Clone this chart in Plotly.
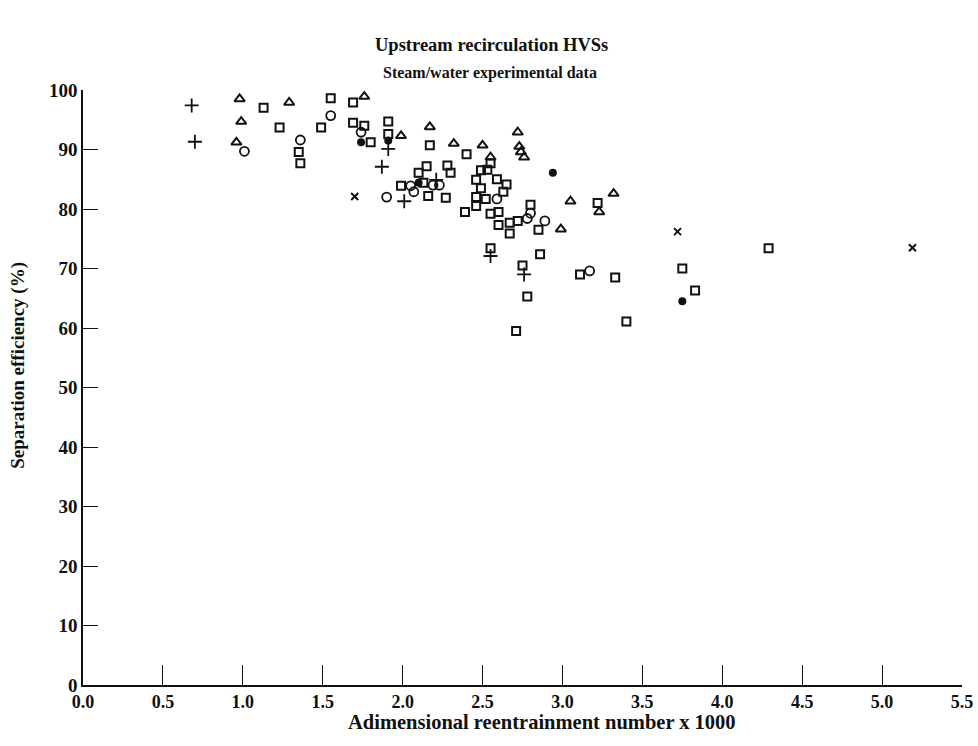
import plotly.graph_objects as go

# --- data (x = reentrainment number x 1000, y = separation efficiency %) ---
plus_x = [0.68, 0.70, 1.91, 1.87, 2.01, 2.21, 2.55, 2.76]
plus_y = [97.4, 91.3, 90.1, 87.1, 81.3, 84.9, 72.1, 69.0]

cross_x = [1.70, 3.72, 5.19]
cross_y = [82.1, 76.2, 73.5]

dot_x = [1.74, 1.91, 2.10, 2.94, 3.75]
dot_y = [91.2, 91.5, 84.4, 86.1, 64.5]

circ_x = [1.01, 1.36, 1.55, 1.74, 1.90, 2.05, 2.07, 2.19, 2.23, 2.59, 2.78, 2.80, 2.89, 3.17]
circ_y = [89.7, 91.6, 95.7, 92.9, 82.0, 83.9, 82.9, 84.0, 84.0, 81.7, 78.4, 79.3, 78.0, 69.6]

tri_x = [0.98, 0.99, 0.96, 1.29, 1.76, 1.99, 2.17, 2.32, 2.50, 2.55, 2.72, 2.73, 2.74, 2.76,
         2.99, 3.05, 3.23, 3.32]
tri_y = [98.5, 94.7, 91.2, 97.9, 98.9, 92.3, 93.8, 91.0, 90.7, 88.7, 92.9, 90.5, 89.6, 88.7,
         76.6, 81.3, 79.5, 82.6]

sq_x = [1.13, 1.23, 1.49, 1.55, 1.35, 1.36, 1.69, 1.69, 1.76, 1.80, 1.91, 1.91, 2.17, 2.40,
        2.15, 2.10, 2.28, 2.30, 1.99, 2.13, 2.16, 2.27, 2.39, 2.46, 2.46, 2.49, 2.46, 2.49,
        2.53, 2.55, 2.52, 2.59, 2.65, 2.63, 2.55, 2.60, 2.60, 2.67, 2.72, 2.67, 2.80, 2.85,
        2.55, 2.86, 2.75, 3.11, 2.78, 2.71, 3.22, 3.33, 3.75, 3.83, 3.40, 4.29]
sq_y = [97.0, 93.7, 93.7, 98.6, 89.6, 87.7, 97.9, 94.5, 94.0, 91.2, 94.7, 92.6, 90.7, 89.2,
        87.2, 86.1, 87.3, 86.1, 83.9, 84.4, 82.2, 81.9, 79.5, 80.5, 82.0, 83.5, 84.9, 86.5,
        86.6, 87.7, 81.7, 85.0, 84.1, 82.9, 79.2, 79.5, 77.3, 77.7, 78.0, 75.9, 80.7, 76.5,
        73.4, 72.4, 70.5, 69.0, 65.3, 59.5, 81.0, 68.5, 70.0, 66.3, 61.1, 73.4]

x_ticks = [0.0, 0.5, 1.0, 1.5, 2.0, 2.5, 3.0, 3.5, 4.0, 4.5, 5.0, 5.5]
y_ticks = [0, 10, 20, 30, 40, 50, 60, 70, 80, 90, 100]

FONT = "Liberation Serif"
BLACK = "#111111"

fig = go.Figure()

def add(xs, ys, symbol, size, lw=1.8):
    fig.add_trace(go.Scatter(
        x=xs, y=ys, mode="markers",
        marker=dict(symbol=symbol, size=size, color=BLACK,
                    line=dict(color=BLACK, width=lw)),
        showlegend=False, hoverinfo="x+y"))

add(sq_x, sq_y, "square-open", 8, 2)
add(tri_x, tri_y, "triangle-up-open", 9, 2)
add(circ_x, circ_y, "circle-open", 9, 1.8)
add(dot_x, dot_y, "circle", 8, 0)
add(plus_x, plus_y, "cross-thin-open", 10, 1.8)
add(cross_x, cross_y, "x-thin-open", 7, 2)

fig.update_layout(
    width=978, height=746,
    margin=dict(l=83, r=16, t=90, b=61, autoexpand=False),
    paper_bgcolor="white", plot_bgcolor="white",
    font=dict(family=FONT, color=BLACK),
    xaxis=dict(range=[0, 5.5], tickvals=x_ticks, automargin=False,
               ticktext=[f"{v:.1f}" for v in x_ticks],
               showgrid=False, zeroline=False, showline=True,
               linecolor=BLACK, linewidth=1.5,
               ticks="inside", ticklen=20, tickwidth=1.2, tickcolor=BLACK,
               tickfont=dict(family=FONT, size=18, weight="bold")),
    yaxis=dict(range=[0, 100], tickvals=y_ticks, automargin=False,
               showgrid=False, zeroline=False, showline=True,
               linecolor=BLACK, linewidth=1.5,
               ticks="inside", ticklen=15, tickwidth=1.2, tickcolor=BLACK,
               tickfont=dict(family=FONT, size=19, weight="bold")),
    annotations=[
        dict(text="<b>Upstream recirculation HVSs</b>", x=0.465, y=1.0756,
             xref="paper", yref="paper", showarrow=False, yanchor="middle",
             font=dict(family=FONT, size=18.5)),
        dict(text="<b>Steam/water experimental data</b>", x=0.463, y=1.029,
             xref="paper", yref="paper", showarrow=False, yanchor="middle",
             font=dict(family=FONT, size=16)),
        dict(text="<b>Adimensional reentrainment number x 1000</b>", x=0.522, y=-0.062,
             xref="paper", yref="paper", showarrow=False, yanchor="middle",
             font=dict(family=FONT, size=20.5)),
        dict(text="<b>Separation efficiency (%)</b>", x=-0.074, y=0.538,
             xref="paper", yref="paper", showarrow=False, textangle=-90,
             xanchor="center", yanchor="middle",
             font=dict(family=FONT, size=19)),
    ],
)

fig.write_html(
    "out.html",
    config={"displayModeBar": False},
    post_script="document.body.style.margin='0';document.body.style.overflow='hidden';",
)
